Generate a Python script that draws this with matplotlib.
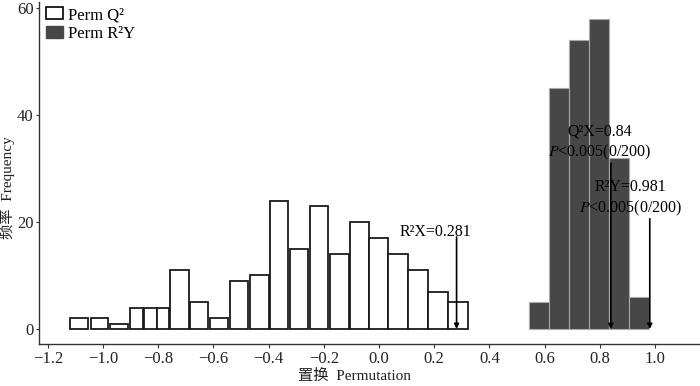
import numpy as np
import matplotlib
matplotlib.use("Agg")
import matplotlib.pyplot as plt
from matplotlib.patches import Patch

plt.rcParams['font.family'] = ['Liberation Serif', 'Noto Sans CJK SC']
plt.rcParams['mathtext.fontset'] = 'stix'

# histogramme Perm Q2 (bords des barres)
q2_left = [-1.120, -1.045, -0.974, -0.902, -0.853, -0.803, -0.757, -0.685,
           -0.612, -0.540, -0.467, -0.395, -0.322, -0.250, -0.178, -0.105,
           -0.036, 0.034, 0.106, 0.179, 0.251]
q2_right = [-1.053, -0.981, -0.908, -0.856, -0.805, -0.760, -0.689, -0.618,
            -0.546, -0.474, -0.399, -0.329, -0.256, -0.184, -0.109, -0.038,
            0.034, 0.106, 0.179, 0.251, 0.324]
q2_counts = [2, 2, 1, 4, 4, 4, 11, 5, 2, 9, 10, 24, 15, 23, 14, 20,
             17, 14, 11, 7, 5]

# histogramme Perm R2Y
r2y_edges = [0.543, 0.616, 0.689, 0.761, 0.834, 0.906, 0.979]
r2y_counts = [5, 45, 54, 58, 32, 6]

# valeurs du modele
stat_x = [0.281, 0.84, 0.981]
stat_top = [17.2, 31.0, 20.6]
stat_text = ["R\u00b2X=0.281",
             "Q\u00b2X=0.84\n$\\mathit{P}$<0.005(0/200)",
             "R\u00b2Y=0.981\n$\\mathit{P}$<0.005(0/200)"]
text_x = [0.203, 0.801, 0.911]
text_y = [18.1, 34.8, 24.4]

x_ticks = [-1.2, -1.0, -0.8, -0.6, -0.4, -0.2, 0.0, 0.2, 0.4, 0.6, 0.8, 1.0]
y_ticks = [0, 20, 40, 60]

fig = plt.figure(figsize=(7, 3.86), dpi=100)
ax = fig.add_axes([39/700, 42/386, 661/700, 342/386])

dark = "#474747"
ax.bar(r2y_edges[:-1], r2y_counts, width=np.diff(r2y_edges), align="edge",
       color=dark, edgecolor="#a8a8a8", linewidth=0.8, zorder=2)

q2_w = np.array(q2_right) - np.array(q2_left)
ax.bar(q2_left, q2_counts, width=q2_w, align="edge",
       color="white", edgecolor="#1a1a1a", linewidth=1.3, zorder=3)

for x, top in zip(stat_x, stat_top):
    ax.annotate("", xy=(x, 0), xytext=(x, top),
                arrowprops=dict(arrowstyle="-|>", lw=1.2, color="black",
                                mutation_scale=7, shrinkA=0, shrinkB=0),
                zorder=4)

for tx, ty, t in zip(text_x, text_y, stat_text):
    ax.text(tx, ty, t, ha="center", va="center", fontsize=11.5,
            linespacing=1.3, zorder=5)

ax.set_xlim(-1.232, 1.163)
ax.set_ylim(-2.8, 61.1)
ax.set_xticks(x_ticks)
ax.set_xticklabels([f"{v:.1f}".replace("-", "\u2212") for v in x_ticks])
ax.set_yticks(y_ticks)

for s in ["top", "right"]:
    ax.spines[s].set_visible(False)
for s in ["left", "bottom"]:
    ax.spines[s].set_color("#333333")
    ax.spines[s].set_linewidth(1.0)
ax.tick_params(direction="out", length=3, width=0.8, color="#333333",
               labelsize=12, labelcolor="#222222", pad=2)
ax.tick_params(axis="y", length=2.5, pad=1.5)

ax.set_xlabel("置换  Permutation", fontsize=11, color="#222222")
ax.xaxis.set_label_coords(0.4766, -0.074)
ax.set_ylabel("频率  Frequency", fontsize=11, color="#222222")
ax.yaxis.set_label_coords(-0.036, 0.456)

handles = [Patch(facecolor="white", edgecolor="black", linewidth=1.2, label="Perm Q\u00b2"),
           Patch(facecolor=dark, edgecolor=dark, label="Perm R\u00b2Y")]
ax.legend(handles=handles, loc="upper left", bbox_to_anchor=(0.003, 1.0),
          frameon=False, fontsize=12, handlelength=1.0, handleheight=0.7,
          handletextpad=0.3, labelspacing=0.15, borderaxespad=0.0,
          borderpad=0.3)

fig.savefig("out.png", dpi=100)
